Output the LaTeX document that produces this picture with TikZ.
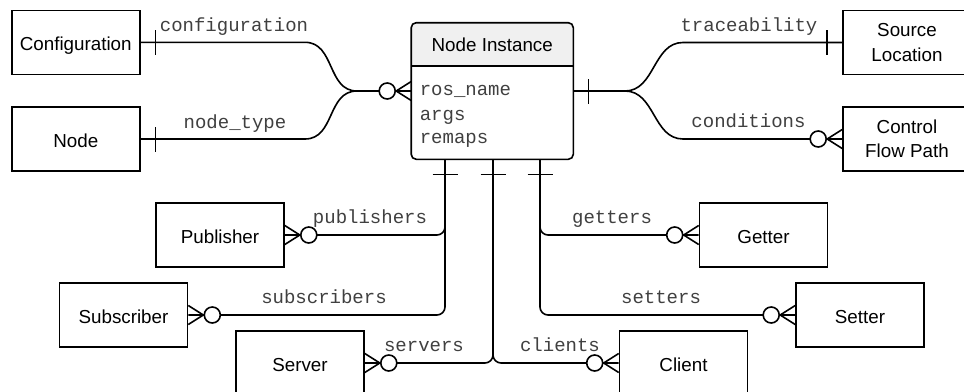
\documentclass[tikz,border=0pt]{standalone}
\usepackage{fontspec}
\newfontfamily\sansf{Liberation Sans}
\newfontfamily\monof{Liberation Mono}
\begin{document}
\begin{tikzpicture}[x=1pt,y=-1pt,line width=1.6pt,
  entity/.style={draw,fill=white,minimum width=128pt,minimum height=64pt,inner sep=0pt,
    font=\sansf\fontsize{18.8}{24.4}\selectfont,text height=16.8pt,text depth=0pt},
  entity2/.style={draw,fill=white,minimum width=128pt,minimum height=64pt,inner sep=0pt,
    font=\sansf\fontsize{18.8}{24.4}\selectfont,align=center},
  rel/.style={font=\monof\fontsize{19}{22}\selectfont,text=black!75,inner sep=0pt,anchor=base},
  zmany/.pic={\draw (0pt,-9.5pt) -- (15pt,0pt) -- (0pt,9.5pt); \draw[fill=white] (24pt,0pt) circle (8pt);},
  onetick/.pic={\draw (15pt,-12.5pt) -- (15pt,12.5pt);}
]
\useasboundingbox (0,0) rectangle (964,391);
\fill[white] (0,0) rectangle (964,391);

% coordinates for bottom connectors
\coordinate (xa) at (445,0);
\coordinate (xb) at (493,0);
\coordinate (xc) at (540,0);
\coordinate (hl) at (0,66);

% entities
\node[entity]  (conf) at (75.75,42.3) {Configuration};
\node[entity]  (node) at (75.75,139) {Node};
\node[entity2] (src)  at (907,42.5) {Source\\Location};
\node[entity2] (cfp)  at (907,139) {Control\\Flow Path};
\node[entity]  (pub)  at (220,235) {Publisher};
\node[entity]  (sub)  at (123.5,315) {Subscriber};
\node[entity]  (srv)  at (300,363) {Server};
\node[entity]  (get)  at (763.5,235) {Getter};
\node[entity]  (set)  at (860,315) {Setter};
\node[entity]  (cli)  at (683.5,363) {Client};

% Node Instance table
\node[minimum width=160.5pt,minimum height=135pt,inner sep=0pt] (ni) at (492.25,91) {};
\begin{scope}
  \clip[rounded corners=5pt] (ni.north west) rectangle (ni.south east);
  \fill[gray!12] (ni.north west) rectangle (ni.east |- hl);
\end{scope}
\draw[rounded corners=5pt] (ni.north west) rectangle (ni.south east);
\draw (ni.west |- hl) -- (ni.east |- hl);
\node[font=\sansf\fontsize{18.8}{22}\selectfont,inner sep=0pt,anchor=base] (nititle) at (492.25,51.7) {Node Instance};
\node[rel,anchor=base west] (f1) at (419,95) {ros\_name};
\node[rel,anchor=base west] (f2) at (419,120) {args};
\node[rel,anchor=base west] (f3) at (419,143.3) {remaps};

% connectors
\draw (conf.east) -- (305,42.3) .. controls (335,42.3) and (327,91) .. (357,91) -- (ni.west);
\draw (node.east) -- (305,139) .. controls (335,139) and (327,91) .. (357,91);
\draw (ni.east) -- (625,91) .. controls (655,91) and (653,42.5) .. (683,42.5) -- (src.west);
\draw (625,91) .. controls (655,91) and (653,139) .. (683,139) -- (cfp.west);
\draw[rounded corners=8pt] (ni.south -| xa) |- (pub.east);
\draw[rounded corners=8pt] (ni.south -| xa) |- (sub.east);
\draw[rounded corners=8pt] (ni.south -| xb) |- (srv.east);
\draw[rounded corners=8pt] (ni.south -| xb) |- (cli.west);
\draw[rounded corners=8pt] (ni.south -| xc) |- (get.west);
\draw[rounded corners=8pt] (ni.south -| xc) |- (set.west);

% end markers
\pic[rotate=180] at (ni.west) {zmany};
\pic at (pub.east) {zmany};
\pic at (sub.east) {zmany};
\pic at (srv.east) {zmany};
\pic[rotate=180] at (cli.west) {zmany};
\pic[rotate=180] at (get.west) {zmany};
\pic[rotate=180] at (set.west) {zmany};
\pic[rotate=180] at (cfp.west) {zmany};
\pic at (conf.east) {onetick};
\pic at (node.east) {onetick};
\pic[rotate=180] at (src.west) {onetick};
\pic at (ni.east) {onetick};
\pic[rotate=-90] at (ni.south -| xa) {onetick};
\pic[rotate=-90] at (ni.south -| xb) {onetick};
\pic[rotate=-90] at (ni.south -| xc) {onetick};

% relation labels
\node[rel] (lconf) at (234,31.5) {configuration};
\node[rel] (lnt)   at (235,128) {node\_type};
\node[rel] (ltr)   at (749,31.5) {traceability};
\node[rel] (lcond) at (748.5,127.7) {conditions};
\node[rel] (lpub)  at (370,223.3) {publishers};
\node[rel] (lsub)  at (324,303.3) {subscribers};
\node[rel] (lsrv)  at (424,351.7) {servers};
\node[rel] (lcli)  at (560,351.7) {clients};
\node[rel] (lget)  at (612,223.3) {getters};
\node[rel] (lset)  at (661,303.3) {setters};
\end{tikzpicture}
\end{document}
